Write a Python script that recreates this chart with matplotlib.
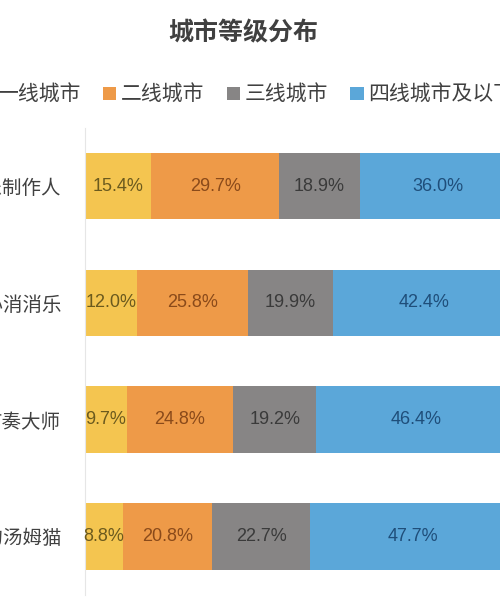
import numpy as np
from matplotlib import pyplot as plt

plt.rcParams['font.family'] = ['Noto Sans CJK SC', 'DejaVu Sans']

# data
apps = ["音乐制作人", "开心消消乐", "节奏大师", "会说话的汤姆猫"]
tiers = ["一线城市", "二线城市", "三线城市", "四线城市及以下"]
tier1 = [15.4, 12.0, 9.7, 8.8]
tier2 = [29.7, 25.8, 24.8, 20.8]
tier3 = [18.9, 19.9, 19.2, 22.7]
tier4 = [36.0, 42.4, 46.4, 47.7]

colors = ["#F4C550", "#EE9A48", "#878585", "#5BA7D9"]
text_colors = ["#6b5a1e", "#8a4a1a", "#3a3a3a", "#1f4e7a"]

fig = plt.figure(figsize=(5, 6), dpi=100)
# axes run past the right edge, like the cropped original
ax = fig.add_axes([0.17, 0.009, 0.86, 0.778])

y = np.arange(len(apps))
left = np.zeros(len(apps))
handles = []
for vals, c, tc, name in zip([tier1, tier2, tier3, tier4], colors, text_colors, tiers):
    vals = np.array(vals)
    bars = ax.barh(y, vals / 100, left=left, height=0.57, color=c, label=name)
    handles.append(bars)
    for yi, l, v in zip(y, left, vals):
        ax.text(l + v / 200, yi, f"{v:.1f}%", ha="center", va="center",
                color=tc, fontsize=13, family="Liberation Sans")
    left += vals / 100

ax.set_xlim(0, 1)
ax.set_ylim(3.5, -0.5)
ax.set_yticks(y)
ax.set_yticklabels(apps, fontsize=14, color="#404040")
ax.tick_params(axis="y", length=0, pad=17)
ax.set_xticks([])
for s in ["top", "right", "bottom"]:
    ax.spines[s].set_visible(False)
ax.spines["left"].set_color("#e6e6e6")

fig.text(0.486, 0.945, "城市等级分布", ha="center", va="center",
         fontsize=18, color="#404040", fontweight="bold")

fig.legend(handles=handles, labels=tiers, loc="center", ncol=4,
           bbox_to_anchor=(0.494, 0.842), frameon=False, fontsize=15,
           handlelength=0.63, handleheight=0.63, handletextpad=0.24,
           columnspacing=1.06, labelcolor="#404040")

plt.savefig("out.png", dpi=100)
